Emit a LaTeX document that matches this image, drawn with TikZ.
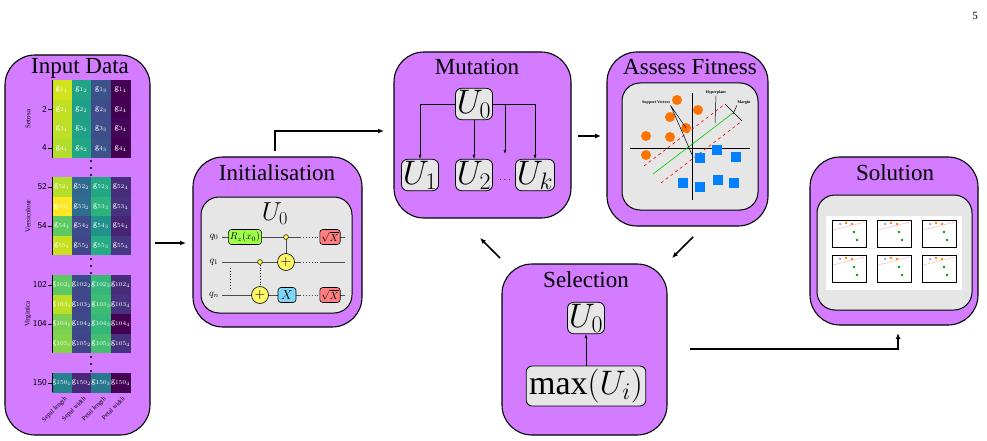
\documentclass[tikz,border=0pt]{standalone}
\usepackage{fix-cm}
\usepackage{fontspec}
\setmainfont{Liberation Serif}
\usetikzlibrary{arrows.meta}
\definecolor{pur}{HTML}{D47CFF}
\definecolor{gry}{HTML}{E6E6E6}
\begin{document}
\begin{tikzpicture}[x=1pt,y=-1pt,
 stage/.style={draw=black,line width=1.1pt,fill=pur,rounded corners=30pt},
 inner/.style={draw=black,line width=1pt,fill=gry,rounded corners=18pt},
 ttl/.style={font=\fontsize{23}{24}\selectfont},
 ubox/.style={draw=black,line width=0.8pt,fill=gry,rounded corners=6pt,inner sep=1.5pt,font=\fontsize{34}{36}\selectfont},
 flow/.style={-{Latex[length=6pt,width=5pt]},line width=1.6pt},
 thin/.style={-{Latex[length=4pt,width=3pt]},line width=0.6pt},
 cell/.style={minimum width=19.6pt,minimum height=19.5pt,inner sep=0pt,text=white,font=\fontsize{8}{8}\selectfont,anchor=north west},
 gate/.style={draw=black,line width=0.6pt,rounded corners=3pt,minimum height=15pt,inner sep=1.5pt,font=\fontsize{10}{10}\selectfont},
 wire/.style={line width=0.9pt,draw=black!70},
]
\useasboundingbox (0,0) rectangle (987,441);
\node (pg) at (975,16) {\fontsize{11}{11}\selectfont 5};
% ---------- Input data
\draw[stage] (5,55) rectangle (150,435);
\node[ttl] (tin) at (80,68) {Input Data};
\foreach \y/\a/\b/\c/\d/\l in {80/d2e21b/20a386/3b528b/440154/1,99.5/c2df23/1f9e89/3e4c8a/440154/2,119/bddf26/1fa187/3d4e8a/450559/3,138.5/b2dd2d/22a785/3b528b/440154/4,
 177/b5de2b/31688e/22a884/472d7b/52,196.5/fde725/2f6c8e/2eb37c/46337f/53,216/5ec962/3e4a89/21918c/482475/54,235.5/c8e020/3f4788/25ac82/453781/55,
 275/5ec962/3e4989/35b779/472c7a/102,294.5/bddf26/3f4788/3fbc73/46327e/103,314/7ad151/3e4989/35b779/440154/104,333.5/84d44b/414487/44bf70/46327e/105,
 373/26828e/482878/2a788e/440154/150}{
 \definecolor{ca}{HTML}{\a}\definecolor{cb}{HTML}{\b}\definecolor{cc}{HTML}{\c}\definecolor{cd}{HTML}{\d}
 \node[cell,fill=ca] (h\l a) at (52,\y) {$\mathsf{g}_{\l_1}$};
 \node[cell,fill=cb] (h\l b) at (71.6,\y) {$\mathsf{g}_{\l_2}$};
 \node[cell,fill=cc] (h\l c) at (91.2,\y) {$\mathsf{g}_{\l_3}$};
 \node[cell,fill=cd] (h\l d) at (110.8,\y) {$\mathsf{g}_{\l_4}$};
}
\foreach \t/\b in {80/158,177/255,275/353,373/392}{\draw[line width=0.8pt] (52,\t) -- (52,\b);}
\foreach \y/\l in {109/2,148/4,187/52,226/54,285/102,324/104,383/150}{
 \draw[line width=0.6pt] (48,\y) -- (52,\y);
 \node[anchor=east,font=\fontsize{9}{9}\sffamily,inner sep=1pt] (tk\l) at (48,\y) {\l};}
\foreach \y in {161,168,175,259,266,273,357,364,371}{\fill (91,\y) circle (1.1pt);}
\node[rotate=90,font=\fontsize{7}{7}\selectfont] (gs) at (28,119) {Setosa};
\node[rotate=90,font=\fontsize{7}{7}\selectfont] (gv) at (28,216) {Versicolour};
\node[rotate=90,font=\fontsize{7}{7}\selectfont] (gg) at (28,314) {Virginica};
\foreach \x/\t/\n in {64/Sepal length/1,83/Sepal width/2,103/Petal length/3,122/Petal width/4}{
 \node[rotate=45,anchor=north east,font=\fontsize{6.5}{6.5}\selectfont,inner sep=0pt] (cl\n) at (\x,396) {\t};}
% ---------- Initialisation
\draw[stage] (193,157) rectangle (362,327);
\node[ttl] (tini) at (277,173) {Initialisation};
\draw[inner] (201,197) rectangle (352,313);
\node (iu) at (275,214) {\fontsize{26}{26}\selectfont $U_0$};
\node[font=\fontsize{10}{10}\selectfont] (q0) at (214,237) {$q_0$};
\node[font=\fontsize{10}{10}\selectfont] (q1) at (214,262) {$q_1$};
\node[font=\fontsize{10}{10}\selectfont] (qn) at (214,295) {$q_n$};
\draw[wire] (q0.east) -- (300,237) (340,237) -- (345,237);
\draw[wire] (q1.east) -- (300,262) (320,262) -- (345,262);
\draw[wire] (qn.east) -- (300,295) (340,295) -- (345,295);
\draw[wire,dotted] (300,237) -- (320,237) (300,262) -- (320,262) (300,295) -- (320,295);
\draw[dotted,line width=0.8pt] (230,268) -- (230,290);
\draw[wire] (286,237) -- (286,262);
\draw[line width=0.8pt,dotted] (260,262) -- (260,295);
\node[gate,fill=green!55!yellow!70] (rz) at (245,237) {$R_z(x_0)$};
\node[draw,line width=0.5pt,fill=yellow!70,circle,inner sep=1.7pt] (c0) at (286,237) {};
\node[draw,line width=0.5pt,fill=yellow!70,circle,inner sep=1.7pt] (c1) at (260,262) {};
\node[draw,line width=0.6pt,fill=yellow!60,circle,minimum size=17pt,inner sep=0pt,font=\fontsize{14}{14}\selectfont] (t1) at (286,262) {$+$};
\node[draw,line width=0.6pt,fill=yellow!60,circle,minimum size=17pt,inner sep=0pt,font=\fontsize{14}{14}\selectfont] (t2) at (260,295) {$+$};
\node[gate,fill=cyan!50,minimum width=18pt,font=\fontsize{13}{13}\selectfont] (xg) at (287,295) {$X$};
\node[gate,fill=red!50,minimum width=18pt] (s0) at (330,237) {$\sqrt{X}$};
\node[gate,fill=red!50,minimum width=18pt] (s1) at (330,295) {$\sqrt{X}$};
% ---------- Mutation
\draw[stage] (394,52) rectangle (571,218);
\node[ttl] (tmu) at (477,67) {Mutation};
\node[ubox] (m0) at (474,104) {$U_0$};
\node[ubox] (m1) at (420,175) {$U_1$};
\node[ubox] (m2) at (474,175) {$U_2$};
\node[ubox] (mk) at (535,175) {$U_k$};
\node (mdots) at (505,180) {$\cdots$};
\coordinate (mx) at (505,154);
\draw[thin] (m0.west) -| (m1.north);
\draw[thin] (m0.south) -- (m2.north);
\draw[thin] (m0.east) -| (mx);
\draw[thin] (m0.east) -| (mk.north);
% ---------- Assess fitness
\draw[stage] (607,52) rectangle (768,226);
\node[ttl] (taf) at (690,67) {Assess Fitness};
\draw[inner] (622,83) rectangle (758,210);
\draw[line width=0.6pt] (630,148) -- (750,148) (692,93) -- (692,200);
\draw[red,dashed,line width=0.6pt] (644,166) -- (725,104) (661,183) -- (742,121);
\draw[green!80!black,line width=0.6pt] (653,174) -- (733,113);
\foreach \x/\y/\n in {677/100/1,698/110/2,670/117/3,686/128/4,646/136/5,670/137/6,646/155/7}{
 \fill[orange!90!red] (\x,\y) circle (5pt) coordinate (o\n);}
\foreach \x/\y/\n in {700/158/1,717/150/2,736/157/3,683/183/4,700/187/5,718/180/6,734/183/7}{
 \fill[blue!50!cyan] (\x-5,\y-5) rectangle (\x+5,\y+5) coordinate (b\n);}
\node[font=\fontsize{4}{4}\selectfont\bfseries,inner sep=0.5pt] (sv) at (656,103) {Support Vectors};
\node[font=\fontsize{4}{4}\selectfont\bfseries,inner sep=0.5pt] (hp) at (716,93) {Hyperplane};
\node[font=\fontsize{4}{4}\selectfont\bfseries,inner sep=0.5pt] (mg) at (744,103) {Margin};
\coordinate (sva) at (686,128); \coordinate (svb) at (693,157);
\draw[line width=0.5pt] (sv.south east) -- (sva) (sv.south east) -- (svb);
\draw[line width=0.5pt] (hp.south) -- (715,123);
\draw[line width=0.5pt] (mg.south west) -- (733,114) (725,104) -- (742,121);
% ---------- Selection
\draw[stage] (502,264) rectangle (667,435);
\node[ttl] (tse) at (586,280) {Selection};
\node[ubox] (s0u) at (586,318) {$U_0$};
\node[ubox,inner sep=3pt] (smax) at (586,386) {$\max(U_i)$};
\draw[thin] (smax.north) -- (s0u.south);
% ---------- Solution
\draw[stage] (810,157) rectangle (978,325);
\node[ttl] (tso) at (895,173) {Solution};
\draw[inner] (817,195) rectangle (972,310);
\fill[white] (826,216) rectangle (962,290);
\foreach \x/\y/\n in {832/220/1,877/220/2,922/220/3,832/255/4,877/255/5,922/255/6}{
 \draw[line width=0.4pt] (\x,\y) rectangle +(34,27) coordinate (p\n);
 \fill[green!60!black] (\x+22,\y+12) circle (1.3pt) (\x+25,\y+20) circle (1.3pt);
 \fill[orange] (\x+14,\y+3) circle (1.3pt) (\x+20,\y+4) circle (1.3pt);
 \fill[blue!60] (\x+8,\y+4) circle (1pt);
 \draw[red!30,line width=0.4pt] (\x+1,\y+10) -- (\x+33,\y+2);
}
% ---------- flow arrows
\coordinate (a1) at (155,243); \coordinate (a2) at (186,243);
\draw[flow] (a1) -- (a2);
\coordinate (b1) at (275,151); \coordinate (b2) at (384,131);
\draw[flow] (b1) |- (b2);
\coordinate (c1) at (578,136); \coordinate (c2) at (601,136);
\draw[flow] (c1) -- (c2);
\coordinate (d1) at (693,237); \coordinate (d2) at (672,258);
\draw[flow] (d1) -- (d2);
\coordinate (e1) at (500,258); \coordinate (e2) at (480,238);
\draw[flow] (e1) -- (e2);
\coordinate (f1) at (690,349); \coordinate (f2) at (898,333);
\draw[flow] (f1) -| (f2);
\end{tikzpicture}
\end{document}
